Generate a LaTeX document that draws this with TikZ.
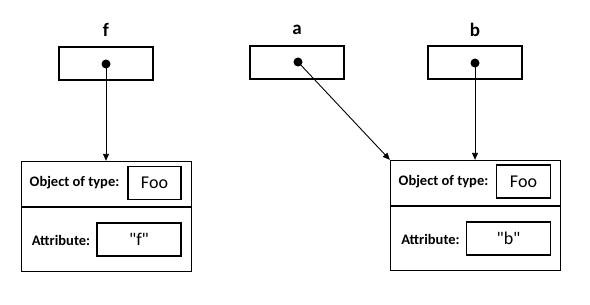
\documentclass[tikz,border=0pt]{standalone}
\usepackage{fontspec}
\setmainfont{Carlito}
\usetikzlibrary{arrows.meta}

\tikzset{
  varbox/.style={draw,line width=1.3pt,minimum width=94pt,minimum height=33pt,inner sep=0pt},
  objbox/.style={draw,line width=1.3pt,minimum width=170pt,minimum height=110pt,inner sep=0pt},
  valbox/.style={draw,line width=1.3pt,minimum height=33pt,inner sep=0pt,font=\fontsize{18}{20}\selectfont},
  varname/.style={font=\bfseries\fontsize{19}{21}\selectfont},
  fieldname/.style={font=\bfseries\fontsize{14.5}{16}\selectfont},
  ptr/.style={circle,fill=black,minimum size=9pt,inner sep=0pt},
  ref/.style={line width=0.9pt,-{Triangle[length=7pt,width=6pt]}}
}

\begin{document}
\begin{tikzpicture}[x=1pt,y=-1pt]
        \useasboundingbox (0,0) rectangle (590,305);
        % variables
        \node[varname] (fname) at (106,30) {f};
        \node[varname] (aname) at (297,30) {a};
        \node[varname] (bname) at (475,30) {b};
        \node[varbox] (fvar) at (106,63.5) {};
        \node[varbox] (avar) at (297,62.5) {};
        \node[varbox] (bvar) at (475,62.5) {};
        \node[ptr] (fptr) at (106,64) {};
        \node[ptr] (aptr) at (298,62) {};
        \node[ptr] (bptr) at (475,63) {};
        
        % object referenced by f
        \node[objbox] (fobj) at (106.5,216.5) {};
        \draw[line width=1.3pt] (fobj.west |- 0,207) -- (fobj.east |- 0,207);
        \node[fieldname] (ftype) at (74.5,183) {Object of type:};
        \node[valbox,minimum width=53pt] (ftypeval) at (154.5,183) {Foo};
        \node[fieldname] (fattr) at (61,240) {Attribute:};
        \node[valbox,minimum width=84pt] (fattrval) at (139,239.5) {\textquotedbl f\textquotedbl};
        
        % object referenced by a and b
        \node[objbox] (bobj) at (475.5,215.5) {};
        \draw[line width=1.3pt] (bobj.west |- 0,206) -- (bobj.east |- 0,206);
        \node[fieldname] (btype) at (443.5,182) {Object of type:};
        \node[valbox,minimum width=54pt] (btypeval) at (523.5,181.5) {Foo};
        \node[fieldname] (battr) at (430.5,239) {Attribute:};
        \node[valbox,minimum width=84pt] (battrval) at (508.5,238.5) {\textquotedbl b\textquotedbl};
        
        \draw[ref] (fptr.center) -- (fptr.center |- fobj.north);
        \draw[ref] (aptr.center) -- (bobj.north west);
        \draw[ref] (bptr.center) -- (bptr.center |- bobj.north);
        
        \end{tikzpicture}
\end{document}
